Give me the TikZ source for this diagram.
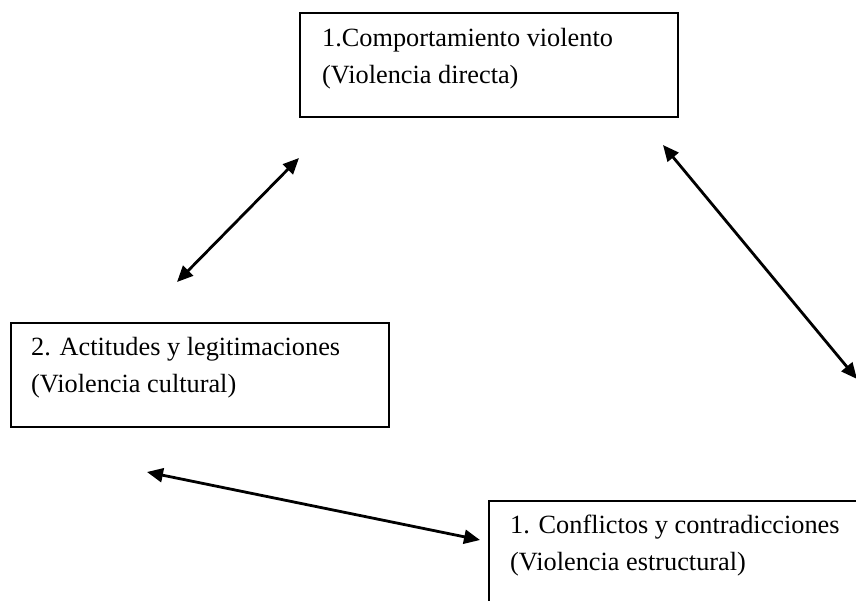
\documentclass[tikz,border=0pt]{standalone}
\usepackage{fontspec}
\setmainfont{Liberation Serif}
\usetikzlibrary{arrows.meta}
\tikzset{
  box/.style={draw=black, line width=1.7pt, minimum width=378pt, minimum height=104pt, anchor=north west, inner sep=0pt},
  txt/.style={anchor=base west, align=left, inner sep=0pt, font=\fontsize{26.3}{37}\selectfont},
  link/.style={line width=2.8pt, {Triangle[length=16pt,width=14pt]}-{Triangle[length=16pt,width=14pt]}}
}
\begin{document}
\begin{tikzpicture}[x=1pt,y=-1pt]
\useasboundingbox (0,0) rectangle (856,600);
\clip (0,0) rectangle (856,600);
\fill[white] (0,0) rectangle (856,600);
% boxes
\node[box] (b1) at (299,12) {};
\node[box] (b2) at (10,322) {};
\node[box] (b3) at (488,500) {};
% texts (base anchor = baseline of the last line)
\node[txt] (t1) at (322,83) {1.Comportamiento violento\\(Violencia directa)};
\node[txt] (t2) at (31,392) {2. Actitudes y legitimaciones\\(Violencia cultural)};
\node[txt] (t3) at (510,570) {1. Conflictos y contradicciones\\(Violencia estructural)};
% arrow ends
\coordinate (a1s) at (299,158);
\coordinate (a1e) at (177,282);
\coordinate (a2s) at (663,145);
\coordinate (a2e) at (857,379);
\coordinate (a3s) at (147,472);
\coordinate (a3e) at (480,540);
\draw[link] (a1s) -- (a1e);
\draw[link] (a2s) -- (a2e);
\draw[link] (a3s) -- (a3e);
\end{tikzpicture}
\end{document}
